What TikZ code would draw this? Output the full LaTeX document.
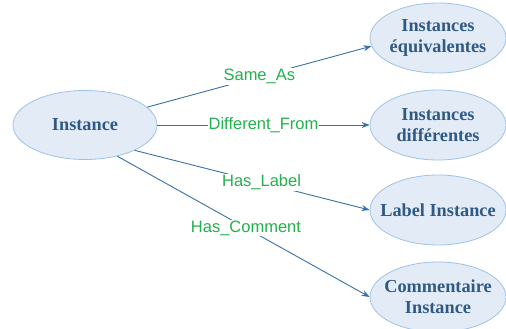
\documentclass[tikz,border=0pt]{standalone}
\usepackage{fontspec}
\setmainfont{Liberation Serif}
\newfontfamily\labfont{Liberation Sans}
\usetikzlibrary{shapes.geometric,arrows.meta}
\definecolor{efill}{HTML}{E3EBF7}
\definecolor{edraw}{HTML}{9DC3E6}
\definecolor{etext}{HTML}{2F5A86}
\definecolor{eline}{HTML}{3A70A6}
\definecolor{lgreen}{HTML}{22B14C}
\tikzset{
  ent/.style={ellipse, draw=edraw, fill=efill, line width=0.8pt, inner xsep=-14pt, inner ysep=-12pt,
    minimum width=136pt, minimum height=70pt, align=center,
    font=\bfseries\fontsize{18.3}{21}\selectfont, text=etext},
  rel/.style={draw=eline, line width=0.9pt, -{Stealth[length=8pt,width=6pt]}},
  lab/.style={fill=white, inner sep=1pt, font=\labfont\fontsize{16.5}{18}\selectfont, text=lgreen}
}
\begin{document}
\begin{tikzpicture}[x=1pt,y=-1pt]
\useasboundingbox (0,0) rectangle (506,329);
\node[ent, minimum width=144pt, minimum height=69pt] (inst) at (85,125) {Instance};
\node[ent] (eq) at (438,38) {Instances\\équivalentes};
\node[ent] (diff) at (438,125) {Instances\\différentes};
\node[ent] (lab) at (438,210) {Label Instance};
\node[ent] (com) at (438,297) {Commentaire\\Instance};
\draw[rel] (inst.16) -- node[lab, pos=0.5] {Same\_As} (eq.187);
\draw[rel] (inst.east) -- node[lab, pos=0.5] {Different\_From} (diff.west);
\draw[rel] (inst.-27) -- node[lab, pos=0.54] {Has\_Label} (lab.west);
\draw[rel] (inst.-44) -- node[lab, pos=0.51] {Has\_Comment} (com.west);
\end{tikzpicture}
\end{document}
